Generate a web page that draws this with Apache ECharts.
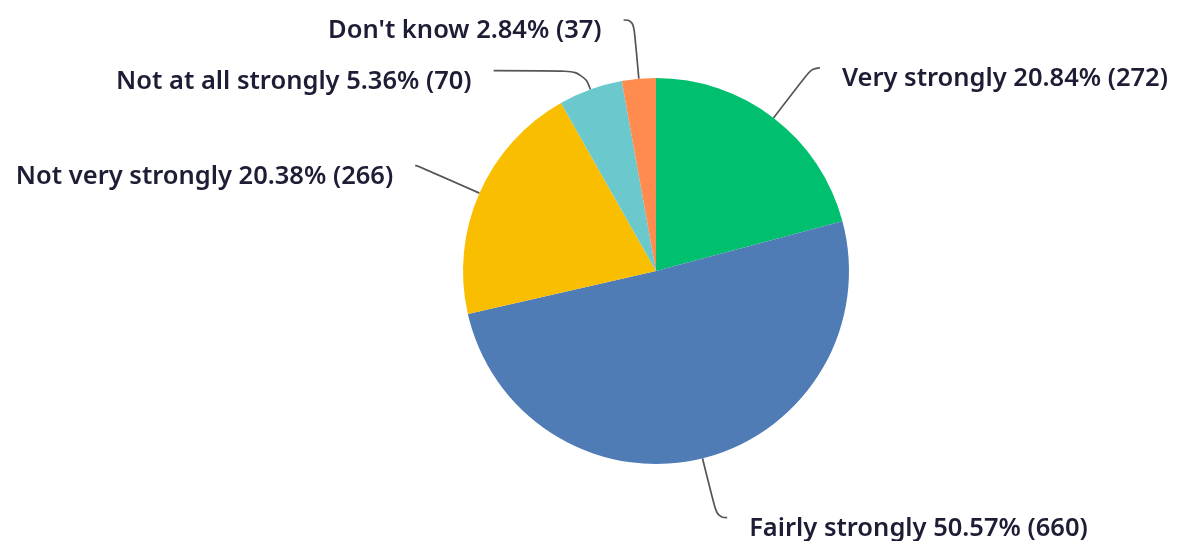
<!DOCTYPE html>
<html>
<head>
<meta charset="utf-8">
<script src="https://cdn.jsdelivr.net/npm/echarts@6/dist/echarts.min.js"></script>
<style>html,body{margin:0;padding:0;background:#fff;}#c{width:1183px;height:541px;}</style>
</head>
<body>
<div id="c"></div>
<script>
const categories = ['Very strongly', 'Fairly strongly', 'Not very strongly', 'Not at all strongly', "Don't know"];
const counts = [272, 660, 266, 70, 37];
const colors = ['#00bf6f', '#507cb6', '#f9be00', '#6bc8cd', '#ff8b4f'];
const lineLen = [63, 61, 68, 20, 59];
const lineLen2 = [8, 10, 2, 90, 10];

const total = counts.reduce((a, b) => a + b, 0);
const chart = echarts.init(document.getElementById('c'), null, {renderer: 'canvas'});
chart.setOption({
  animation: false,
  series: [{
    type: 'pie',
    center: [656, 271],
    radius: 193,
    startAngle: 90,
    clockwise: true,
    avoidLabelOverlap: false,
    data: categories.map((n, i) => ({
      name: n,
      value: counts[i],
      itemStyle: {color: colors[i]},
      labelLine: {length: lineLen[i], length2: lineLen2[i]}
    })),
    itemStyle: {borderWidth: 0},
    label: {
      show: true,
      formatter: p => p.name + ' ' + (p.value / total * 100).toFixed(2) + '% (' + p.value + ')',
      color: '#1d1d35',
      fontFamily: 'Noto Sans',
      fontWeight: 600,
      fontSize: 25.5,
      offset: [0, 11],
      distanceToLabelLine: 22
    },
    labelLine: {
      show: true,
      smooth: 0.5,
      lineStyle: {color: '#555555', width: 1.7}
    },
    emphasis: {disabled: true}
  }]
});
</script>
</body>
</html>
